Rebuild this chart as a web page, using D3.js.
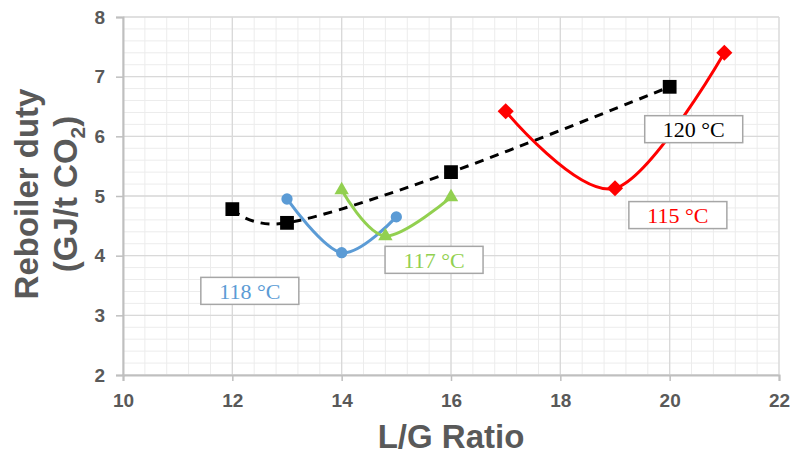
<!DOCTYPE html>
<meta charset="utf-8">
<script src="https://cdn.jsdelivr.net/npm/d3@7"></script>
<style>
body { margin: 0; background: #fff; }
</style>
<body>
<script>

// L/G ratio vs reboiler duty, one series per stripper temperature
var lg120 = [12, 13, 16, 20];
var duty120 = [4.78, 4.55, 5.40, 6.83];
var lg118 = [13, 14, 15];
var duty118 = [4.95, 4.05, 4.65];
var lg117 = [14, 14.8, 16];
var duty117 = [5.10, 4.33, 4.98];
var lg115 = [17, 19, 21];
var duty115 = [6.42, 5.13, 7.40];

var seriesNames = ["120 °C", "118 °C", "117 °C", "115 °C"];
// label box centres in data units
var labelX = [20.44, 12.32, 15.69, 20.15];
var labelY = [6.12, 3.41, 3.93, 4.68];

var xTicks = [10, 12, 14, 16, 18, 20, 22];
var yTicks = [2, 3, 4, 5, 6, 7, 8];

var width = 794, height = 455;
var margin = {top: 17, right: 15, bottom: 80, left: 123};

var svg = d3.select("body").append("svg")
    .attr("width", width)
    .attr("height", height);

var x = d3.scaleLinear().domain([10, 22]).range([margin.left, width - margin.right]);
var y = d3.scaleLinear().domain([2, 8]).range([height - margin.bottom, margin.top]);

// minor grid
svg.append("g").selectAll("line")
    .data(d3.range(10, 22.01, 0.4))
    .enter().append("line")
    .attr("x1", function(d) { return x(d); })
    .attr("x2", function(d) { return x(d); })
    .attr("y1", y(2)).attr("y2", y(8))
    .attr("stroke", "#ececec").attr("stroke-width", 1);
svg.append("g").selectAll("line")
    .data(d3.range(2, 8.01, 0.2))
    .enter().append("line")
    .attr("y1", function(d) { return y(d); })
    .attr("y2", function(d) { return y(d); })
    .attr("x1", x(10)).attr("x2", x(22))
    .attr("stroke", "#ececec").attr("stroke-width", 1);

// major grid
svg.append("g").selectAll("line")
    .data(xTicks)
    .enter().append("line")
    .attr("x1", function(d) { return x(d); })
    .attr("x2", function(d) { return x(d); })
    .attr("y1", y(2)).attr("y2", y(8))
    .attr("stroke", "#d9d9d9").attr("stroke-width", 1.3);
svg.append("g").selectAll("line")
    .data(yTicks)
    .enter().append("line")
    .attr("y1", function(d) { return y(d); })
    .attr("y2", function(d) { return y(d); })
    .attr("x1", x(10)).attr("x2", x(22))
    .attr("stroke", "#d9d9d9").attr("stroke-width", 1.3);

// axes
var xAxis = svg.append("g")
    .attr("transform", "translate(0," + y(2) + ")")
    .call(d3.axisBottom(x).tickValues(xTicks).tickFormat(d3.format("d")).tickSize(6).tickPadding(13));
var yAxis = svg.append("g")
    .attr("transform", "translate(" + x(10) + ",0)")
    .call(d3.axisLeft(y).tickValues(yTicks).tickFormat(d3.format("d")).tickSize(7).tickPadding(11));
[xAxis, yAxis].forEach(function(a) {
  a.select(".domain").attr("stroke", "#bfbfbf").attr("stroke-width", 2);
  a.selectAll(".tick line").attr("stroke", "#bfbfbf").attr("stroke-width", 1.5);
  a.selectAll("text")
      .attr("fill", "#595959")
      .attr("font-family", "Liberation Sans, Arial, sans-serif")
      .attr("font-weight", "bold")
      .attr("font-size", "19px");
});

// axis titles
svg.append("text")
    .attr("x", 451)
    .attr("y", 448)
    .attr("text-anchor", "middle")
    .attr("fill", "#595959")
    .attr("font-family", "Liberation Sans, Arial, sans-serif")
    .attr("font-weight", "bold")
    .attr("font-size", "33px")
    .text("L/G Ratio");

var ytitle = svg.append("text")
    .attr("transform", "translate(38,194) rotate(-90)")
    .attr("text-anchor", "middle")
    .attr("fill", "#595959")
    .attr("font-family", "Liberation Sans, Arial, sans-serif")
    .attr("font-weight", "bold")
    .attr("font-size", "33px");
ytitle.append("tspan").attr("x", 0).attr("dy", 0).text("Reboiler duty");
var line2 = ytitle.append("tspan").attr("x", 0).attr("dy", 39);
line2.append("tspan").text("(GJ/t CO");
line2.append("tspan").attr("font-size", "21px").attr("dy", 8).text("2");
line2.append("tspan").attr("dy", -8).text(")");

var smooth = d3.line()
    .x(function(d) { return x(d[0]); })
    .y(function(d) { return y(d[1]); })
    .curve(d3.curveCardinal.tension(0));

function pts(xs, ys) { return xs.map(function(v, i) { return [v, ys[i]]; }); }

var series = [
  {data: pts(lg120, duty120), color: "#000000", dash: "9,7", symbol: d3.symbolSquare, size: 190, rot: 0},
  {data: pts(lg118, duty118), color: "#5b9bd5", dash: null, symbol: d3.symbolCircle, size: 100, rot: 0},
  {data: pts(lg117, duty117), color: "#92d050", dash: null, symbol: d3.symbolTriangle, size: 90, rot: 0},
  {data: pts(lg115, duty115), color: "#ff0000", dash: null, symbol: d3.symbolSquare, size: 130, rot: 45}
];

series.forEach(function(s) {
  svg.append("path")
      .attr("d", smooth(s.data))
      .attr("fill", "none")
      .attr("stroke", s.color)
      .attr("stroke-width", 3)
      .attr("stroke-dasharray", s.dash);
  svg.append("g").selectAll("path")
      .data(s.data)
      .enter().append("path")
      .attr("transform", function(d) {
        return "translate(" + x(d[0]) + "," + y(d[1]) + ") rotate(" + s.rot + ")";
      })
      .attr("d", d3.symbol().type(s.symbol).size(s.size))
      .attr("fill", s.color);
});

// temperature labels
var labels = svg.append("g").selectAll("g")
    .data(seriesNames)
    .enter().append("g")
    .attr("transform", function(d, i) { return "translate(" + x(labelX[i]) + "," + y(labelY[i]) + ")"; });
labels.append("rect")
    .attr("x", -49).attr("y", -13.5)
    .attr("width", 98).attr("height", 27)
    .attr("fill", "#fff")
    .attr("stroke", "#a6a6a6")
    .attr("stroke-width", 1.5);
labels.append("text")
    .attr("text-anchor", "middle")
    .attr("dy", "0.35em")
    .attr("font-family", "Liberation Serif, Cambria, serif")
    .attr("font-size", "22px")
    .attr("fill", function(d, i) { return series[i].color; })
    .text(function(d) { return d; });

</script>
</body>
</html>
